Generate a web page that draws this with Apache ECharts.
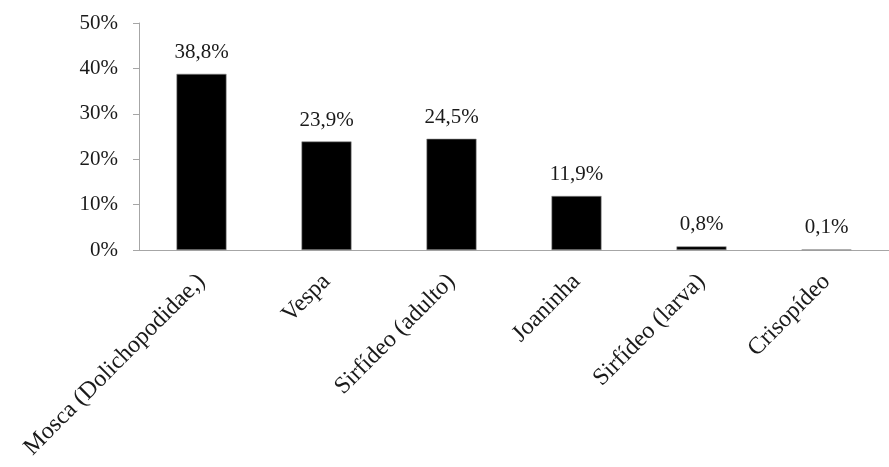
<!DOCTYPE html>
<html>
<head>
<meta charset="utf-8">
<script src="https://cdn.jsdelivr.net/npm/echarts@6/dist/echarts.min.js"></script>
<style>
html,body{margin:0;padding:0;background:#fff;}
#chart{width:889px;height:467px;}
</style>
</head>
<body>
<div id="chart"></div>
<script>
var categories = ['Mosca (Dolichopodidae,)', 'Vespa', 'Sirfídeo (adulto)', 'Joaninha', 'Sirfídeo (larva)', 'Crisopídeo'];
var values = [38.8, 23.9, 24.5, 11.9, 0.8, 0.1];
var yMin = 0, yMax = 50, yStep = 10;

var chart = echarts.init(document.getElementById('chart'));
var font = '"Liberation Serif", "Times New Roman", serif';
chart.setOption({
  animation: false,
  backgroundColor: '#ffffff',
  grid: { left: 139, top: 23, width: 759, height: 227 },
  xAxis: {
    type: 'category',
    data: categories,
    axisLine: { show: true, lineStyle: { color: '#a6a6a6', width: 1 } },
    axisTick: { show: false },
    axisLabel: {
      rotate: 45,
      interval: 0,
      margin: 28,
      fontFamily: font,
      fontSize: 24,
      color: '#1a1a1a'
    }
  },
  yAxis: {
    type: 'value',
    min: yMin, max: yMax, interval: yStep,
    axisLine: { show: true, lineStyle: { color: '#a6a6a6', width: 1 } },
    axisTick: { show: true, length: 6, lineStyle: { color: '#a6a6a6' } },
    splitLine: { show: false },
    axisLabel: {
      margin: 21,
      fontFamily: font,
      fontSize: 21,
      color: '#1a1a1a',
      formatter: function (v) { return v + '%'; }
    }
  },
  series: [{
    type: 'bar',
    data: values,
    barWidth: 50,
    itemStyle: { color: '#000000', borderColor: '#8c8c8c', borderWidth: 0.6 },
    label: {
      show: true,
      position: 'top',
      distance: 11,
      fontFamily: font,
      fontSize: 21,
      color: '#1a1a1a',
      formatter: function (p) { return p.value.toFixed(1).replace('.', ',') + '%'; }
    }
  }]
});
</script>
</body>
</html>
